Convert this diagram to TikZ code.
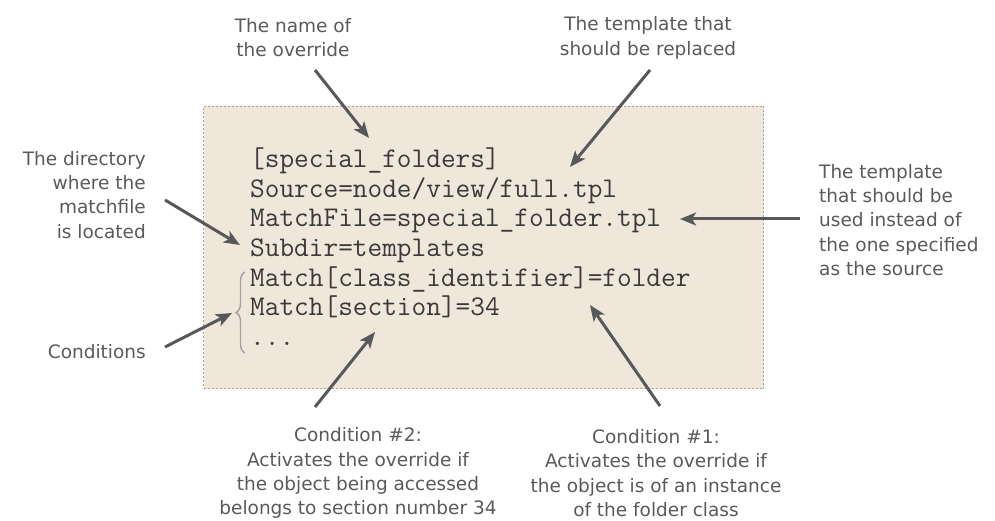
\documentclass[tikz,border=0pt]{standalone}
\usepackage{fontspec}
\setmainfont{DejaVu Sans}
\usetikzlibrary{arrows.meta,decorations.pathreplacing}
\definecolor{boxfill}{HTML}{EFE8DA}
\definecolor{boxline}{HTML}{A8A49C}
\definecolor{arrowc}{HTML}{58585A}
\definecolor{labelc}{HTML}{5A5A5A}
\definecolor{codec}{HTML}{3A3A3A}
\definecolor{bracec}{HTML}{A0A0A0}
\begin{document}
\begin{tikzpicture}[x=1pt,y=-1pt,
  lbl/.style={font=\fontsize{18.5}{24.2}\selectfont, text=labelc, inner sep=0pt},
  code/.style={font=\ttfamily\fontsize{28.5}{30}\selectfont, text=codec, inner sep=0pt, anchor=base west},
  arr/.style={draw=arrowc, line width=3pt, -{Stealth[length=16pt,width=13pt,inset=4pt]}},
]
\useasboundingbox (0,0) rectangle (995,521);
\fill[white] (0,0) rectangle (995,521);
\node[draw=boxline, fill=boxfill, dash pattern=on 2pt off 2pt, line width=1pt,
  minimum width=560pt, minimum height=282pt, anchor=north west, inner sep=0pt] (box) at (203,106) {};

\node[code] (l1) at (250,168) {[special\_folders]};
\node[code] (l2) at (250,197.5) {Source=node/view/full.tpl};
\node[code] (l3) at (250,227) {MatchFile=special\_folder.tpl};
\node[code] (l4) at (250,256.5) {Subdir=templates};
\node[code] (l5) at (250,286) {Match[class\_identifier]=folder};
\node[code] (l6) at (250,315.5) {Match[section]=34};
\node[code] (l7) at (250,345) {...};

\draw[bracec, line width=1.4pt, decorate, decoration={brace, amplitude=9pt}]
  (245,353) -- (245,272);

\node[lbl, align=center] (nameov) at (293,38) {The name of\\the override};
\node[lbl, align=center] (tplrep) at (648,38) {The template that\\should be replaced};
\node[lbl, align=right, anchor=east] (dirlbl) at (146,195) {The directory\\where the\\matchfile\\is located};
\node[lbl, anchor=east] (condlbl) at (146,352) {Conditions};
\node[lbl, align=left, anchor=west] (uselbl) at (819,220) {The template\\that should be\\used instead of\\the one specified\\as the source};
\node[lbl, align=center] (c2lbl) at (358,473) {Condition \#2:\\Activates the override if\\the object being accessed\\belongs to section number 34};
\node[lbl, align=center] (c1lbl) at (656,473) {Condition \#1:\\Activates the override if\\the object is of an instance\\of the folder class};

\coordinate (a1s) at (315,70);  \coordinate (a1e) at (369,138);
\coordinate (a2s) at (650,70);  \coordinate (a2e) at (570,167);
\coordinate (a3s) at (800,219); \coordinate (a3e) at (680,219);
\coordinate (a4s) at (165,200); \coordinate (a4e) at (240,245);
\coordinate (a5s) at (165,347); \coordinate (a5e) at (232,313);
\coordinate (a6s) at (315,407); \coordinate (a6e) at (375,332);
\coordinate (a7s) at (660,406); \coordinate (a7e) at (590,305);

\draw[arr] (a1s) -- (a1e);
\draw[arr] (a2s) -- (a2e);
\draw[arr] (a3s) -- (a3e);
\draw[arr] (a4s) -- (a4e);
\draw[arr] (a5s) -- (a5e);
\draw[arr] (a6s) -- (a6e);
\draw[arr] (a7s) -- (a7e);
\end{tikzpicture}
\end{document}
